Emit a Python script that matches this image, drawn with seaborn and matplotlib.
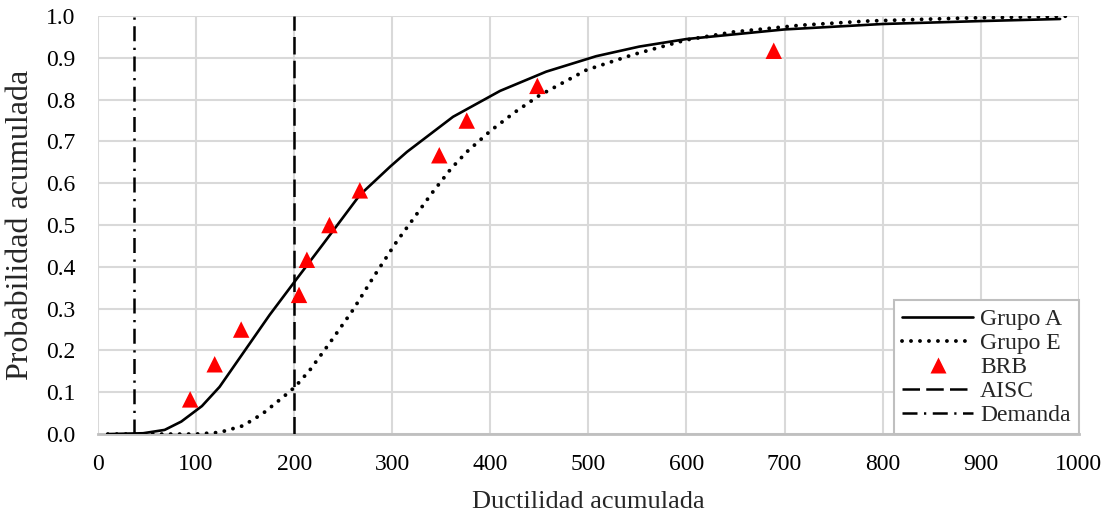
import matplotlib
matplotlib.use("Agg")
import matplotlib.pyplot as plt
import seaborn as sns
import pandas as pd
from matplotlib.lines import Line2D

# ---- data ----
grupo_a_x = [10, 46, 68, 85, 106, 124, 175, 199, 230, 267, 298, 315, 362, 410, 457, 508, 552, 600, 700, 800, 900, 981]
grupo_a_y = [0.0, 0.002, 0.01, 0.03, 0.067, 0.113, 0.285, 0.36, 0.456, 0.572, 0.64, 0.675, 0.759, 0.821, 0.867, 0.904, 0.927, 0.945, 0.968, 0.981, 0.988, 0.993]

grupo_e_x = [10, 60, 100, 124, 148, 168, 189, 201, 216, 236, 260, 281, 305, 320, 340, 360, 376, 400, 425, 450, 498, 546, 600, 648, 716, 784, 880, 994]
grupo_e_y = [0.0, 0.0, 0.0, 0.004, 0.02, 0.049, 0.089, 0.113, 0.153, 0.217, 0.297, 0.376, 0.462, 0.51, 0.575, 0.635, 0.675, 0.725, 0.77, 0.81, 0.871, 0.908, 0.943, 0.962, 0.978, 0.988, 0.995, 1.0]

brb_x = [94, 119, 146, 205, 213, 236, 267, 348, 376, 448, 689]
brb_y = [0.083, 0.167, 0.25, 0.333, 0.417, 0.5, 0.583, 0.667, 0.75, 0.833, 0.917]

aisc_x = 200
demanda_x = 37

x_ticks = [0, 100, 200, 300, 400, 500, 600, 700, 800, 900, 1000]
y_ticks = [0.0, 0.1, 0.2, 0.3, 0.4, 0.5, 0.6, 0.7, 0.8, 0.9, 1.0]

sns.set_theme(style="white")
plt.rcParams['font.family'] = ['Liberation Serif', 'DejaVu Serif']

fig = plt.figure(figsize=(11.07, 5.18), dpi=100)
ax = fig.add_axes([0.0885, 0.162, 0.886, 0.807])

df_a = pd.DataFrame({"x": grupo_a_x, "y": grupo_a_y})
df_e = pd.DataFrame({"x": grupo_e_x, "y": grupo_e_y})
df_b = pd.DataFrame({"x": brb_x, "y": brb_y})

ax.set_xlim(0, 1000)
ax.set_ylim(0, 1.0)
ax.set_xticks(x_ticks)
ax.set_yticks(y_ticks)
ax.set_xticklabels([str(v) for v in x_ticks])
ax.set_yticklabels([f"{v:.1f}" for v in y_ticks])
ax.grid(True, color="#d9d9d9", linewidth=1.5)
ax.set_axisbelow(True)

dot_style = (0, (0.01, 2.3))
aisc_style = (0, (7, 2.5))
dem_style = (0, (6, 2.6, 0.9, 2.6))

sns.lineplot(data=df_a, x="x", y="y", ax=ax, color="black", linewidth=1.9, sort=False, zorder=3)
sns.lineplot(data=df_e, x="x", y="y", ax=ax, color="black", linewidth=2.8, sort=False,
             linestyle=dot_style, zorder=3)
ax.lines[-1].set_dash_capstyle("round")
sns.scatterplot(data=df_b, x="x", y="y", ax=ax, color="red", marker="^", s=140,
                edgecolor="none", zorder=4, clip_on=False)
ax.axvline(aisc_x, color="black", linewidth=1.8, linestyle=aisc_style, zorder=3)
ax.axvline(demanda_x, color="black", linewidth=1.8, linestyle=dem_style, zorder=3)

for s in ["left", "right", "top"]:
    ax.spines[s].set_visible(False)
ax.spines["bottom"].set_color("#bfbfbf")
ax.spines["bottom"].set_linewidth(2.0)

ax.tick_params(axis="both", length=0, labelsize=17, colors="black")
ax.tick_params(axis="x", pad=14)
ax.tick_params(axis="y", pad=16)
ax.set_xlabel("Ductilidad acumulada", fontsize=19, labelpad=12)
ax.set_ylabel("Probabilidad acumulada", fontsize=23, labelpad=8)

handles = [
    Line2D([0], [0], color="black", linewidth=1.9),
    Line2D([0], [0], color="black", linewidth=2.8, linestyle=dot_style, dash_capstyle="round"),
    Line2D([0], [0], color="red", marker="^", linestyle="none", markersize=12, markeredgecolor="none"),
    Line2D([0], [0], color="black", linewidth=1.8, linestyle=aisc_style),
    Line2D([0], [0], color="black", linewidth=1.8, linestyle=dem_style),
]
labels = ["Grupo A", "Grupo E", "BRB", "AISC", "Demanda"]
leg = ax.legend(handles, labels, loc="lower right", bbox_to_anchor=(1.0, 0.0),
                borderaxespad=0.0,
                fontsize=17, frameon=True, fancybox=False, framealpha=1.0,
                edgecolor="#bfbfbf", handlelength=3.0, handletextpad=0.3,
                labelspacing=0.1, borderpad=0.35)
leg.get_frame().set_linewidth(1.5)
leg.set_zorder(10)

fig.savefig("out.png", dpi=100)
